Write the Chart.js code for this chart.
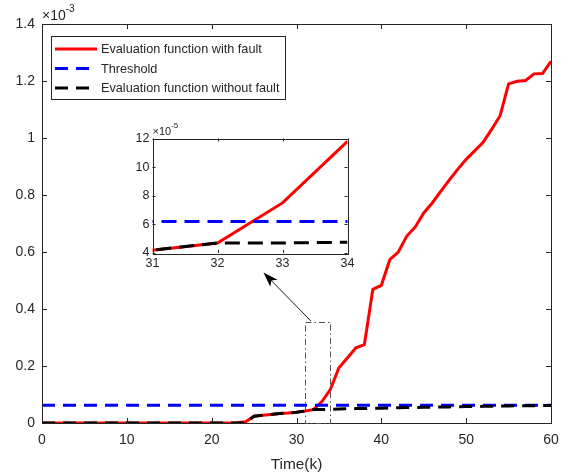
<!DOCTYPE html>
<html>
<head>
<meta charset="utf-8">
<script src="https://cdn.jsdelivr.net/npm/chart.js@4.4.0/dist/chart.umd.min.js"></script>
<style>
  html, body { margin: 0; padding: 0; background: #fff; }
  #wrap { position: relative; width: 573px; height: 476px; }
  #wrap canvas { position: absolute; left: 0; top: 0; }
</style>
</head>
<body>
<div id="wrap">
  <canvas id="main-chart" width="573" height="476"></canvas>
  <canvas id="inset-chart" width="573" height="476"></canvas>
</div>
<script>
// time steps k
const STEPS = [0, 1, 2, 3, 4, 5, 6, 7, 8, 9, 10, 11, 12, 13, 14, 15, 16, 17, 18, 19, 20,
  21, 22, 23, 24, 25, 26, 27, 28, 29, 30, 31, 32, 33, 34, 35, 36, 37, 38, 39, 40,
  41, 42, 43, 44, 45, 46, 47, 48, 49, 50, 51, 52, 53, 54, 55, 56, 57, 58, 59, 60];

// values in units of 1e-3
const WITH_FAULT = [0, 0, 0, 0, 0, 0, 0, 0, 0, 0, 0, 0, 0, 0, 0, 0, 0, 0, 0, 0, 0,
  0, 0, 0.001, 0.004, 0.024, 0.027, 0.030, 0.033, 0.035, 0.038,
  0.042, 0.047, 0.075, 0.118, 0.194, 0.228, 0.264, 0.275, 0.469, 0.483,
  0.573, 0.600, 0.656, 0.688, 0.737, 0.772, 0.813, 0.852, 0.890, 0.925,
  0.955, 0.985, 1.030, 1.078, 1.190, 1.199, 1.202, 1.225, 1.226, 1.269];

const WITHOUT_FAULT = [0, 0, 0, 0, 0, 0, 0, 0, 0, 0, 0, 0, 0, 0, 0, 0, 0, 0, 0, 0, 0,
  0, 0, 0, 0, 0.024, 0.027, 0.030, 0.033, 0.035, 0.038,
  0.042, 0.047, 0.047, 0.0475, 0.049, 0.050, 0.0505, 0.051, 0.0515, 0.052,
  0.053, 0.0535, 0.054, 0.0545, 0.055, 0.0555, 0.056, 0.0565, 0.057, 0.0575,
  0.058, 0.0585, 0.059, 0.0595, 0.060, 0.0602, 0.0605, 0.0607, 0.061, 0.061];

const THRESHOLD = 0.062;
const THRESHOLD_SPAN = [0, 60];

const LEGEND_LABELS = ['Evaluation function with fault', 'Threshold', 'Evaluation function without fault'];

const X_TICKS = [0, 10, 20, 30, 40, 50, 60];
const Y_TICKS = [0, 0.2, 0.4, 0.6, 0.8, 1.0, 1.2, 1.4];
const INSET_X_TICKS = [31, 32, 33, 34];
const INSET_Y_TICKS = [4, 6, 8, 10, 12];   // units of 1e-5

// zoom box (k range, value range) and arrow (from, to) in main data units
const ZOOM_BOX_K = [31, 34];
const ZOOM_BOX_V = [0, 0.355];
const ARROW_FROM = [31.7, 0.358];
const ARROW_TO = [26.1, 0.528];

const FONT = '"Liberation Sans", Arial, Helvetica, sans-serif';
const AXIS_COLOR = '#262626';
const COLORS = ['#ff0000', '#0000ff', '#000000'];

const pts = (xs, ys, f = 1) => xs.map((x, i) => ({ x: x, y: ys[i] * f }));

function makeDatasets(scaleBy, dash, width) {
  return [
    {
      label: LEGEND_LABELS[0],
      data: pts(STEPS, WITH_FAULT, scaleBy),
      borderColor: COLORS[0], borderWidth: width,
      pointRadius: 0, tension: 0, order: 3
    },
    {
      label: LEGEND_LABELS[1],
      data: THRESHOLD_SPAN.map(x => ({ x: x, y: THRESHOLD * scaleBy })),
      borderColor: COLORS[1], borderWidth: width, borderDash: dash,
      pointRadius: 0, order: 2
    },
    {
      label: LEGEND_LABELS[2],
      data: pts(STEPS, WITHOUT_FAULT, scaleBy),
      borderColor: COLORS[2], borderWidth: width, borderDash: dash,
      pointRadius: 0, tension: 0, order: 1
    }
  ];
}

// ─── frame, inward ticks and exponent label ─────────────
function drawFrame(chart, tickLen, expo, fontSize) {
  const ctx = chart.ctx;
  const a = chart.chartArea;
  const xs = chart.scales.x, ys = chart.scales.y;
  ctx.save();
  ctx.strokeStyle = AXIS_COLOR;
  ctx.lineWidth = 1;
  ctx.beginPath();
  xs.ticks.forEach(t => {
    const px = Math.round(xs.getPixelForValue(t.value)) + 0.5;
    ctx.moveTo(px, a.bottom); ctx.lineTo(px, a.bottom - tickLen);
    ctx.moveTo(px, a.top); ctx.lineTo(px, a.top + tickLen);
  });
  ys.ticks.forEach(t => {
    const py = Math.round(ys.getPixelForValue(t.value)) + 0.5;
    ctx.moveTo(a.left, py); ctx.lineTo(a.left + tickLen, py);
    ctx.moveTo(a.right, py); ctx.lineTo(a.right - tickLen, py);
  });
  ctx.stroke();
  ctx.strokeRect(Math.round(a.left) + 0.5, Math.round(a.top) + 0.5,
    Math.round(a.right - a.left), Math.round(a.bottom - a.top));

  ctx.fillStyle = AXIS_COLOR;
  ctx.textBaseline = 'alphabetic';
  ctx.textAlign = 'left';
  ctx.font = fontSize + 'px ' + FONT;
  const base = '\u00d710';
  ctx.fillText(base, a.left, a.top - 4);
  const w = ctx.measureText(base).width;
  ctx.font = Math.round(fontSize * 0.72) + 'px ' + FONT;
  ctx.fillText(expo, a.left + w, a.top - 4 - fontSize * 0.6);
  ctx.restore();
}

const mainDecor = {
  id: 'mainDecor',
  afterDraw(chart) {
    drawFrame(chart, 5, '-3', 14);
    const ctx = chart.ctx;
    const xs = chart.scales.x, ys = chart.scales.y;

    // zoom box
    ctx.save();
    ctx.strokeStyle = '#555';
    ctx.lineWidth = 1;
    ctx.setLineDash([6, 3, 1.5, 3]);
    const x0 = xs.getPixelForValue(ZOOM_BOX_K[0]), x1 = xs.getPixelForValue(ZOOM_BOX_K[1]);
    const y0 = ys.getPixelForValue(ZOOM_BOX_V[0]), y1 = ys.getPixelForValue(ZOOM_BOX_V[1]);
    ctx.strokeRect(Math.round(x0) + 0.5, Math.round(y1) + 0.5, Math.round(x1 - x0), Math.round(y0 - y1));
    ctx.setLineDash([]);

    // arrow
    const ax = xs.getPixelForValue(ARROW_FROM[0]), ay = ys.getPixelForValue(ARROW_FROM[1]);
    const bx = xs.getPixelForValue(ARROW_TO[0]), by = ys.getPixelForValue(ARROW_TO[1]);
    const ang = Math.atan2(by - ay, bx - ax);
    const hl = 15, hw = 5;
    ctx.strokeStyle = '#000';
    ctx.fillStyle = '#000';
    ctx.lineWidth = 0.9;
    ctx.beginPath();
    ctx.moveTo(ax, ay);
    ctx.lineTo(bx - Math.cos(ang) * hl * 0.6, by - Math.sin(ang) * hl * 0.6);
    ctx.stroke();
    ctx.beginPath();
    ctx.moveTo(bx, by);
    ctx.lineTo(bx - Math.cos(ang) * hl - Math.sin(ang) * hw, by - Math.sin(ang) * hl + Math.cos(ang) * hw);
    ctx.lineTo(bx - Math.cos(ang) * hl * 0.75, by - Math.sin(ang) * hl * 0.75);
    ctx.lineTo(bx - Math.cos(ang) * hl + Math.sin(ang) * hw, by - Math.sin(ang) * hl - Math.cos(ang) * hw);
    ctx.closePath();
    ctx.fill();

    // legend box
    const lx = 51, ly = 36, lw = 234, lh = 63;
    ctx.fillStyle = '#fff';
    ctx.fillRect(lx, ly, lw, lh);
    ctx.strokeStyle = AXIS_COLOR;
    ctx.lineWidth = 1;
    ctx.strokeRect(lx + 0.5, ly + 0.5, lw, lh);
    ctx.font = '12.7px ' + FONT;
    ctx.textBaseline = 'middle';
    ctx.textAlign = 'left';
    chart.data.datasets.forEach((ds, i) => {
      const cy = 49 + i * 19.5;
      ctx.strokeStyle = ds.borderColor;
      ctx.lineWidth = 3;
      ctx.setLineDash(ds.borderDash || []);
      ctx.beginPath();
      ctx.moveTo(55, cy); ctx.lineTo(97, cy);
      ctx.stroke();
      ctx.setLineDash([]);
      ctx.fillStyle = AXIS_COLOR;
      ctx.fillText(ds.label, 101, cy + 0.5);
    });
    ctx.restore();
  }
};

const insetDecor = {
  id: 'insetDecor',
  beforeDraw(chart) {
    const a = chart.chartArea;
    chart.ctx.save();
    chart.ctx.fillStyle = '#fff';
    chart.ctx.fillRect(a.left, a.top, a.right - a.left, a.bottom - a.top);
    chart.ctx.restore();
  },
  afterDraw(chart) {
    drawFrame(chart, 3, '-5', 11);
  }
};

const tickFont = size => ({ family: FONT, size: size });

// ─── main chart ───────────────────────────────
new Chart(document.getElementById('main-chart').getContext('2d'), {
  type: 'line',
  data: { datasets: makeDatasets(1, [13, 8], 3) },
  options: {
    responsive: false,
    animation: false,
    devicePixelRatio: 1,
    layout: { padding: { top: 24, right: 22, bottom: 0, left: 0 } },
    plugins: { legend: { display: false }, tooltip: { enabled: false } },
    scales: {
      x: {
        type: 'linear', min: 0, max: 60,
        grid: { display: false, drawTicks: false },
        border: { display: false },
        afterBuildTicks: s => { s.ticks = X_TICKS.map(v => ({ value: v })); },
        ticks: { color: AXIS_COLOR, font: tickFont(14), padding: 9, maxRotation: 0, autoSkip: false },
        title: { display: true, text: 'Time(k)', color: AXIS_COLOR, font: tickFont(15.4), padding: { top: 0, bottom: 2 } },
        afterFit: s => { s.height = 53; }
      },
      y: {
        type: 'linear', min: 0, max: 1.4,
        grid: { display: false, drawTicks: false },
        border: { display: false },
        afterBuildTicks: s => { s.ticks = Y_TICKS.map(v => ({ value: v })); },
        ticks: { color: AXIS_COLOR, font: tickFont(14), padding: 7, autoSkip: false,
                 callback: v => String(Number(v.toFixed(1))) },
        afterFit: s => { s.width = 42; }
      }
    }
  },
  plugins: [mainDecor]
});

// ─── inset chart ───────────────────────────────
new Chart(document.getElementById('inset-chart').getContext('2d'), {
  type: 'line',
  data: { datasets: makeDatasets(100, [15, 8], 3) },
  options: {
    responsive: false,
    animation: false,
    devicePixelRatio: 1,
    layout: { padding: { top: 138.5, right: 225.5, bottom: 193, left: 112.5 } },
    plugins: { legend: { display: false }, tooltip: { enabled: false } },
    scales: {
      x: {
        type: 'linear', min: 31, max: 34,
        grid: { display: false, drawTicks: false },
        border: { display: false },
        afterBuildTicks: s => { s.ticks = INSET_X_TICKS.map(v => ({ value: v })); },
        ticks: { color: AXIS_COLOR, font: tickFont(12.5), padding: 3, maxRotation: 0, autoSkip: false },
        afterFit: s => { s.height = 30; }
      },
      y: {
        type: 'linear', min: 4, max: 12,
        grid: { display: false, drawTicks: false },
        border: { display: false },
        afterBuildTicks: s => { s.ticks = INSET_Y_TICKS.map(v => ({ value: v })); },
        ticks: { color: AXIS_COLOR, font: tickFont(12.5), padding: 3, autoSkip: false },
        afterFit: s => { s.width = 40; }
      }
    }
  },
  plugins: [insetDecor]
});
</script>
</body>
</html>
